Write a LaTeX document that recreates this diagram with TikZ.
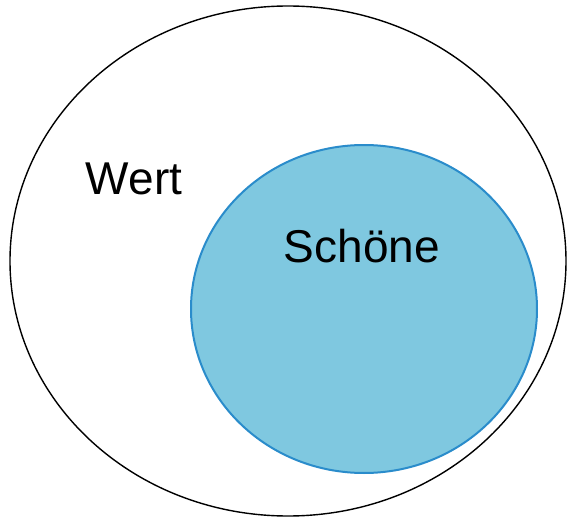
\documentclass[tikz,border=0pt]{standalone}
\usepackage{fontspec}
\setmainfont{Liberation Sans}
\definecolor{innerfill}{HTML}{7FC8E0}
\definecolor{innerline}{HTML}{2A8CCB}
\begin{document}
\begin{tikzpicture}[x=1pt,y=-1pt,
  lbl/.style={font=\fontsize{46}{52}\selectfont, anchor=base, inner sep=0pt}]
\useasboundingbox (0,0) rectangle (574,522);
\fill[white] (0,0) rectangle (574,522);
\draw[black, line width=1.4pt] (288,261) ellipse [x radius=278, y radius=255];
\draw[innerline, fill=innerfill, line width=2pt] (364,309) ellipse [x radius=173, y radius=164];
\node[lbl] (wert) at (134,194) {Wert};
\node[lbl] (schoene) at (362,262) {Schöne};
\end{tikzpicture}
\end{document}
